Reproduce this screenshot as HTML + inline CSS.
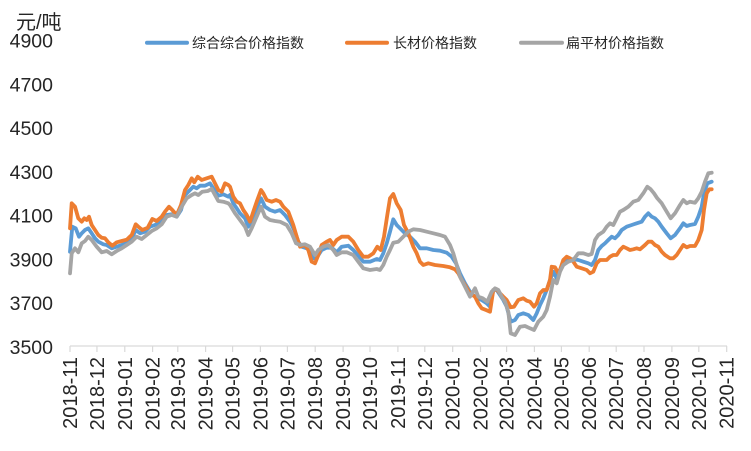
<!DOCTYPE html>
<html><head><meta charset="utf-8"><style>
html,body{margin:0;padding:0;background:#fff;}
svg{display:block;}
text{font-family:"Liberation Sans","Noto Sans CJK SC",sans-serif;fill:#262626;}
</style></head><body>
<svg width="751" height="451" viewBox="0 0 751 451" xmlns="http://www.w3.org/2000/svg">
<text x="16" y="29" font-size="20">元/吨</text>
<g font-size="19.5" text-anchor="end">
<text x="53" y="47.6">4900</text>
<text x="53" y="91.4">4700</text>
<text x="53" y="135.2">4500</text>
<text x="53" y="178.9">4300</text>
<text x="53" y="222.7">4100</text>
<text x="53" y="266.5">3900</text>
<text x="53" y="310.2">3700</text>
<text x="53" y="354">3500</text>
</g>
<g stroke-linecap="round" stroke-width="4">
<line x1="147" y1="42.7" x2="187" y2="42.7" stroke="#5B9BD5"/>
<line x1="347" y1="42.7" x2="387" y2="42.7" stroke="#ED7D31"/>
<line x1="521" y1="42.7" x2="562" y2="42.7" stroke="#A5A5A5"/>
</g>
<g font-size="14" style="fill:#333">
<text x="192" y="48">综合综合价格指数</text>
<text x="393" y="48">长材价格指数</text>
<text x="566" y="48">扁平材价格指数</text>
</g>
<line x1="70" y1="346" x2="727" y2="346" stroke="#D9D9D9" stroke-width="1.2"/>
<g stroke="#D9D9D9" stroke-width="1.2">
<line x1="70" y1="346" x2="70" y2="352"/><line x1="96.95" y1="346" x2="96.95" y2="352"/><line x1="124.8" y1="346" x2="124.8" y2="352"/><line x1="152.6" y1="346" x2="152.6" y2="352"/><line x1="177.8" y1="346" x2="177.8" y2="352"/><line x1="205.6" y1="346" x2="205.6" y2="352"/><line x1="232.6" y1="346" x2="232.6" y2="352"/><line x1="260.4" y1="346" x2="260.4" y2="352"/><line x1="287.4" y1="346" x2="287.4" y2="352"/><line x1="315.2" y1="346" x2="315.2" y2="352"/><line x1="343.1" y1="346" x2="343.1" y2="352"/><line x1="370" y1="346" x2="370" y2="352"/><line x1="397.9" y1="346" x2="397.9" y2="352"/><line x1="424.8" y1="346" x2="424.8" y2="352"/><line x1="452.7" y1="346" x2="452.7" y2="352"/><line x1="480.5" y1="346" x2="480.5" y2="352"/><line x1="506.6" y1="346" x2="506.6" y2="352"/><line x1="534.4" y1="346" x2="534.4" y2="352"/><line x1="561.4" y1="346" x2="561.4" y2="352"/><line x1="589.2" y1="346" x2="589.2" y2="352"/><line x1="616.2" y1="346" x2="616.2" y2="352"/><line x1="644" y1="346" x2="644" y2="352"/><line x1="671.9" y1="346" x2="671.9" y2="352"/><line x1="698.8" y1="346" x2="698.8" y2="352"/><line x1="726.7" y1="346" x2="726.7" y2="352"/>
</g>
<g font-size="20" text-anchor="end">
<text transform="translate(77,357) rotate(-90)">2018-11</text>
<text transform="translate(103.95,357) rotate(-90)">2018-12</text>
<text transform="translate(131.8,357) rotate(-90)">2019-01</text>
<text transform="translate(159.6,357) rotate(-90)">2019-02</text>
<text transform="translate(184.8,357) rotate(-90)">2019-03</text>
<text transform="translate(212.6,357) rotate(-90)">2019-04</text>
<text transform="translate(239.6,357) rotate(-90)">2019-05</text>
<text transform="translate(267.4,357) rotate(-90)">2019-06</text>
<text transform="translate(294.4,357) rotate(-90)">2019-07</text>
<text transform="translate(322.2,357) rotate(-90)">2019-08</text>
<text transform="translate(350.1,357) rotate(-90)">2019-09</text>
<text transform="translate(377,357) rotate(-90)">2019-10</text>
<text transform="translate(404.9,357) rotate(-90)">2019-11</text>
<text transform="translate(431.8,357) rotate(-90)">2019-12</text>
<text transform="translate(459.7,357) rotate(-90)">2020-01</text>
<text transform="translate(487.5,357) rotate(-90)">2020-02</text>
<text transform="translate(513.6,357) rotate(-90)">2020-03</text>
<text transform="translate(541.4,357) rotate(-90)">2020-04</text>
<text transform="translate(568.4,357) rotate(-90)">2020-05</text>
<text transform="translate(596.2,357) rotate(-90)">2020-06</text>
<text transform="translate(623.2,357) rotate(-90)">2020-07</text>
<text transform="translate(651,357) rotate(-90)">2020-08</text>
<text transform="translate(678.9,357) rotate(-90)">2020-09</text>
<text transform="translate(705.8,357) rotate(-90)">2020-10</text>
<text transform="translate(733.7,357) rotate(-90)">2020-11</text>
</g>
<g fill="none" stroke-width="3.8" stroke-linejoin="round" stroke-linecap="round">
<polyline stroke="#5B9BD5" points="70,251.7 72.3,226.7 75.7,228.3 79,236.7 81.7,233.3 85,230 88.3,228.3 91.7,233.3 95,238.3 98.3,241.7 103.3,244.3 106.7,245 111.7,248.3 116.7,246.7 121.7,245 126.7,242.3 131.7,239 135.7,230 140,233.3 145,231.7 150,226.7 155,225 161.7,221.7 166.7,215 171.7,214.3 176.7,216.7 181,210 185,195 190,190 193.3,186.7 196.7,188.3 200,185.7 205,185.7 210,183.3 213.3,188.3 218.3,195.7 223.3,194.3 228.3,196.7 230,195 233.3,203.3 236.7,208.3 240,213.3 245,218.3 248.3,226.7 251.7,220 256.7,208.3 261,198.3 265,206.7 270,210 275,211.7 280,210 285,215 290,221.7 295,231.7 298.3,241.7 301.7,246.7 306.7,248.3 310,251 313.3,258.3 317.3,256.7 321.7,250 326.7,247.7 331.7,247.7 336.7,252.3 341.7,246.7 348.3,245.7 353.3,250 358.3,255.7 363.3,261.7 370,261.7 376.7,259 380,260 383.3,253.3 386.7,243.3 390,231.7 393.3,219.3 396.7,225 400,228.3 405,233.3 410,236.7 415,241.7 420,248.3 426.7,248.3 433.3,250 440,250.7 446.7,252.7 451.7,256.7 456,263.3 460,273.3 465,283.3 470,291.7 476.7,298.3 481.7,300 486.7,303.3 490,306.7 493.3,290 496.7,290 500,295 503.3,300 506.7,306.7 510.7,321.7 515,320 518.3,315 523.3,313.3 528.3,315 533.3,320 536.7,313.3 540,305 543.3,298.3 546.7,290 550,280 553.3,271.7 556.7,278.3 560,270 563.3,263.3 568.3,259.3 573.3,259.3 578.3,260 583.3,261.7 588.3,263.3 591.7,265 595,260 598.3,250 601.7,246 605,243.3 608.3,240 611.7,236.7 615,238.3 618.3,235 621.7,230 626.7,226.7 631.7,225 636.7,223.3 641.7,221.7 645,216.7 648.3,213.3 651.7,216.7 655,218.3 658.3,221.7 661.7,226.7 666.7,233.3 670.7,238.3 675,235 680,228.3 683.3,223.3 686.7,226 690,225 695,224 698.3,216.7 701.7,206.7 704,193.3 707.3,183.3 711.7,181.7"/>
<polyline stroke="#ED7D31" points="70,228.3 71.7,203.3 75,206.7 78.3,218.3 81.7,221.7 84.3,218.3 86.7,220 89,216.7 91.7,225 95,230 98.3,235 101.7,237.7 105,238.3 108.3,242.3 112.3,245.7 116.7,242.3 121.7,241 126.7,239.7 131.7,235 135.7,224.3 138.3,226.7 142.3,230 147.7,227.7 152.3,219 156.7,221 161.7,216.7 165,211.7 169,206.7 172.3,210 176.7,215 181,205 185,190 188.3,185 191.7,178.3 194.3,182.3 197.7,176.7 201.7,180 206.7,178.3 211.7,176.7 215,183.3 218.3,190 221.7,191.7 225,183.3 228.3,185 230,186.7 233.3,196.7 236.7,201.7 240,203.3 243.3,210 246.7,215 250,221.7 253.3,211.7 256.7,201.7 261,190 263.3,193.3 266.7,200 271.7,201.7 276,200 280,201.7 283.3,206.7 288.3,211.7 293.3,225 296.7,236.7 300,246.7 305,245 308.3,250 311.7,261.7 315,263.3 318.3,255 321.7,245 326.7,241.7 330,240 333.3,245 336.7,240 341.7,236.7 348.3,236.7 353.3,241.7 358.3,250 363.3,256.7 368.3,256.7 373.3,253.3 377.3,246.7 380.7,250 384,236.7 387.3,215 390,198.3 393.3,194 396.7,203.3 400.7,210 404,225 408.3,233.3 413.3,246.7 416.7,253.3 420,261.7 423.3,265 428.3,263.3 435,265 443.3,266 450,267.3 455,269.3 458.3,273.3 461.7,280 466,286.7 470,293.3 475,296.7 478.3,303.3 481.7,308.3 486,310 490,311.7 493.3,290 496.7,289.3 500,293.3 503.3,296.7 506.7,300 510.7,307.3 514,306.7 518.3,300 523.3,298.3 526.7,300.7 530,301.7 534,306.7 536.7,303.3 540,293.3 543.3,290 546.7,290 550,280 551.7,266.7 555,267.3 558.3,273.3 560,270 563.3,260 566.7,256.7 570,258.3 573.3,261.7 576.7,266.7 581.7,268.3 586.7,270 590,273.3 593.3,271.7 596.7,263.3 600,260 603.3,260 606.7,260 610,256.7 613.3,255 616.7,255 620,250 623.3,246.7 626.7,248.3 630,250 633.3,249.3 636.7,248.3 640,249.3 645,245 648.3,241.7 651.7,241.7 655,245 658.3,246.7 661.7,251.7 665,255 670,258.3 673.3,258.3 676.7,255 680,250 683.3,245 686.7,247.3 690,246 695,246 698.3,240 701.7,230 704,210 706.7,193.3 709.3,189.3 711.7,189.3"/>
<polyline stroke="#A5A5A5" points="70,273.3 71.7,253.3 75,248.3 78.3,252.3 81.7,243.3 85,241 88.3,236.7 91.7,240 96.7,246.7 101.7,252.3 106.7,251 111.7,254.3 116.7,251 121.7,248.3 126.7,245 131.7,241.7 136.7,236.7 141.7,239 146.7,235 151.7,231 156.7,228.3 161.7,224.3 166.7,216.7 171.7,215 176.7,216.7 181.7,206.7 186.7,198.3 191.7,195 195,193.3 198.3,195 202.3,191.7 207.7,191 211.7,189 215,195 218.3,201 223.3,201.7 228.3,203.3 230,205 235,213.3 240,220 245,226.7 248.3,235 251.7,228.3 256,218.3 261,206.7 265,216.7 270,220 275,221 280,221.7 286.7,225 291.7,233.3 296,243.3 300,245 305,244.3 310,246.7 315,255 318.3,250 323.3,246.7 328.3,245 333.3,250 336.7,255 341.7,252.3 346.7,252.3 353.3,255 358.3,261.7 363.3,268.3 370,270 376.7,269 380,270 383.3,265 386.7,256.7 390,250 393.3,242.7 398.3,241.7 403.3,236.7 408.3,231.7 413.3,229.3 420,230 426.7,231.7 433.3,233.3 440,235 445,236.7 450,245 453.3,253.3 456.7,265 460,276.7 465,286.7 470,296.7 475,288.3 478.3,296.7 482.7,298.3 487.3,301.7 491.7,291.7 495,288.3 498.3,290 501.7,296.7 505,301.7 508.3,311.7 510.7,333.3 515,335 520,326.7 525,326 530,328.3 534,330 538.3,321.7 543.3,316.7 546.7,310 550,296.7 553.3,280 556.7,283.3 560,271.7 563.3,265 568.3,261.7 573.3,260 578.3,253.3 583.3,253.3 588.3,255 591.7,254 595,240 598.3,235 603.3,231.7 606.7,226.7 610,223.3 613.3,225 616.7,218.3 620,211.7 623.3,210 628.3,206.7 633.3,201.7 638.3,200 643.3,193.3 647.3,186.7 650.7,189.3 654,193.3 657.3,198.3 661.7,203.3 666.7,211.7 670.7,218.3 675,213.3 680,205 683.3,200 686.7,203.3 690,201.7 695,202.7 698.3,198.3 701.7,191.7 705,181.7 708.3,173.3 711.7,172.7"/>
</g>
</svg>
</body></html>
